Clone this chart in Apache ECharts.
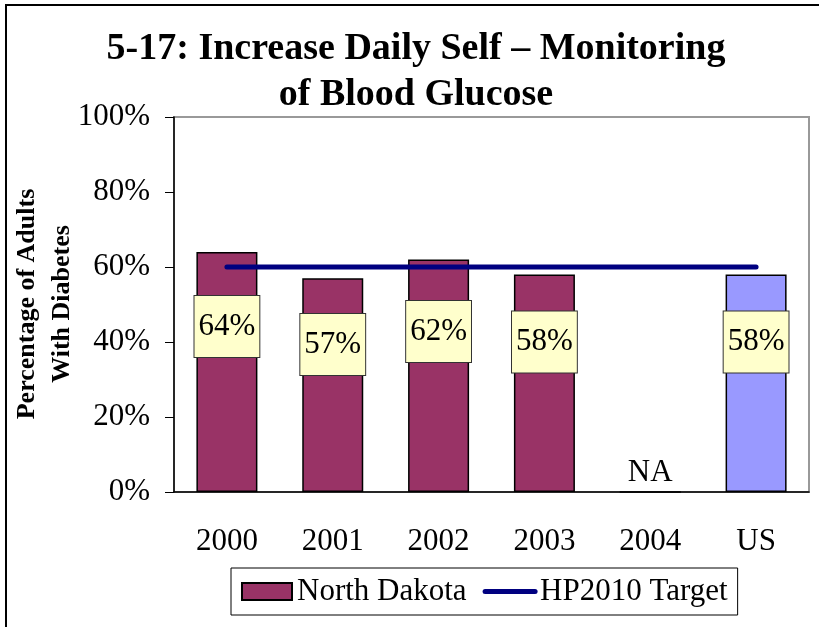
<!DOCTYPE html>
<html>
<head>
<meta charset="utf-8">
<script src="https://cdn.jsdelivr.net/npm/echarts@6/dist/echarts.min.js"></script>
<style>
  html, body { margin: 0; padding: 0; background: #fff; }
  #main { width: 819px; height: 627px; }
</style>
</head>
<body>
<div id="main"></div>
<script>
const categories = ['2000', '2001', '2002', '2003', '2004', 'US']
// null = no data (NA)
const ndValues = [64, 57, 62, 58, null, 58]
const targetValues = [60, 60, 60, 60, 60, 60]
const yTicks = [0, 20, 40, 60, 80, 100]
const yTitle = 'Percentage of Adults\nWith Diabetes'

const serif = 'Liberation Serif'

const barData = ndValues.map((v, i) => {
  if (v === null) {
    return {
      value: 0,
      label: {
        formatter: 'NA',
        position: 'top',
        distance: 18,
        backgroundColor: 'transparent',
        borderWidth: 0,
        padding: 0
      }
    }
  }
  if (categories[i] === 'US') {
    return { value: v, itemStyle: { color: '#9999FF' } }
  }
  return v
})

const chart = echarts.init(document.getElementById('main'))

const option = {
  animation: false,
  title: {
    text: '5-17: Increase Daily Self \u2013 Monitoring\nof Blood Glucose',
    left: 411,
    textAlign: 'center',
    top: 21,
    textStyle: {
      fontFamily: serif,
      fontWeight: 'bold',
      fontSize: 38,
      lineHeight: 46,
      color: '#000'
    }
  },
  graphic: [
    {
      type: 'rect',
      shape: { x: 6, y: 5, width: 840, height: 660 },
      style: { fill: 'none', stroke: '#000', lineWidth: 2 },
      silent: true
    },
    {
      // y axis title, two rotated lines
      type: 'text',
      x: 45,
      y: 304,
      rotation: Math.PI / 2,
      style: {
        text: yTitle,
        fontFamily: serif,
        fontWeight: 'bold',
        fontSize: 26,
        lineHeight: 35,
        fill: '#000',
        align: 'center',
        verticalAlign: 'middle'
      },
      silent: true
    }
  ],
  legend: {
    left: 231,
    top: 568,
    padding: [8, 10],
    itemWidth: 50,
    itemHeight: 17,
    itemGap: 16,
    borderColor: '#000',
    borderWidth: 1,
    textStyle: { fontFamily: serif, fontSize: 31, color: '#000' },
    data: [
      { name: 'North Dakota', icon: 'rect' },
      {
        name: 'HP2010 Target',
        itemStyle: { color: 'rgba(0,0,0,0)', opacity: 0, borderWidth: 0 },
        lineStyle: { width: 5, cap: 'round', color: '#000080' }
      }
    ]
  },
  grid: {
    left: 174,
    right: 10,
    top: 117,
    bottom: 135,
    outerBoundsMode: 'none',
    containLabel: false,
    show: true,
    borderColor: '#999',
    borderWidth: 2,
    backgroundColor: '#fff'
  },
  xAxis: {
    type: 'category',
    data: categories,
    axisLine: { lineStyle: { color: '#000', width: 1.5 } },
    axisTick: { length: 10, lineStyle: { color: '#000' } },
    axisLabel: { fontFamily: serif, fontSize: 31, color: '#000', margin: 34 }
  },
  yAxis: {
    type: 'value',
    min: yTicks[0],
    max: yTicks[yTicks.length - 1],
    interval: 20,
    splitLine: { show: false },
    axisLine: { show: true, lineStyle: { color: '#000', width: 1.5 } },
    axisTick: { show: true, length: 9, lineStyle: { color: '#000' } },
    axisLabel: {
      fontFamily: serif,
      fontSize: 31,
      color: '#000',
      margin: 24,
      formatter: '{value}%'
    }
  },
  series: [
    {
      name: 'North Dakota',
      type: 'bar',
      data: barData,
      barWidth: 61,
      itemStyle: { color: '#993366', borderColor: '#000', borderWidth: 1.5 },
      label: {
        show: true,
        position: ['50%', '31%'],
        align: 'center',
        verticalAlign: 'middle',
        formatter: '{c}%',
        fontFamily: serif,
        fontSize: 31,
        color: '#000',
        backgroundColor: '#FFFFCC',
        borderColor: '#333',
        borderWidth: 1,
        padding: [15, 4]
      },
      z: 2
    },
    {
      name: 'HP2010 Target',
      type: 'line',
      data: targetValues,
      symbol: 'none',
      lineStyle: { color: '#000080', width: 5, cap: 'round' },
      itemStyle: { color: '#000080' },
      z: 3
    }
  ]
}

chart.setOption(option)
</script>
</body>
</html>
